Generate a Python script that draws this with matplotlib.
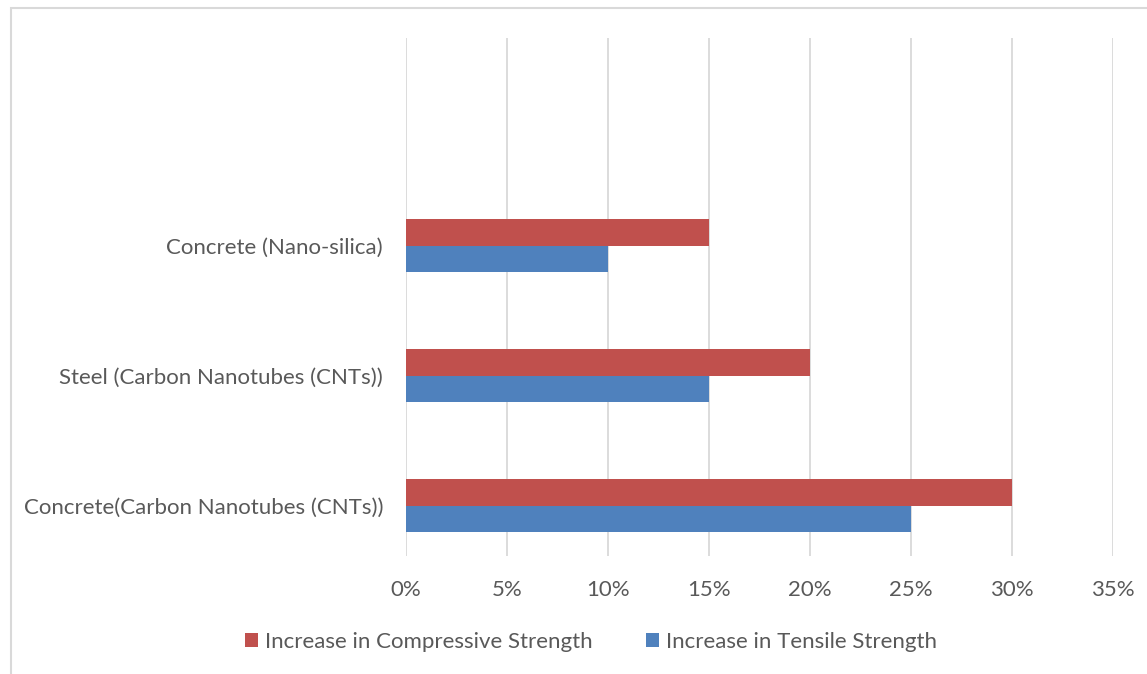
import matplotlib.pyplot as plt
import numpy as np
from matplotlib.patches import Rectangle
from matplotlib.ticker import FuncFormatter

plt.rcParams['font.family'] = ['Lato', 'DejaVu Sans']

# materials listed bottom to top
materials = ['Concrete(Carbon Nanotubes (CNTs))',
             'Steel (Carbon Nanotubes (CNTs))',
             'Concrete (Nano-silica)']
compressive = [30, 20, 15]
tensile = [25, 15, 10]
x_ticks = [0, 5, 10, 15, 20, 25, 30, 35]

red = '#C0504D'
blue = '#4F81BD'
grid_col = '#D9D9D9'
text_col = '#595959'

fig = plt.figure(figsize=(11.47, 6.74), dpi=100)
W, H = 1147, 674

# outer chart frame (runs off the right and bottom edges)
fig.patches.append(Rectangle((11 / W, -0.1), 1.2, 1 - 8 / H + 0.1,
                             transform=fig.transFigure, fill=False,
                             edgecolor=grid_col, linewidth=1.5))

ax = fig.add_axes([406 / W, 1 - 556 / H, (1113 - 406) / W, (556 - 38) / H])

y = np.arange(len(materials))
h = 0.204
ax.barh(y + h / 2, compressive, height=h, color=red,
        label='Increase in Compressive Strength', zorder=3)
ax.barh(y - h / 2, tensile, height=h, color=blue,
        label='Increase in Tensile Strength', zorder=3)

ax.set_xlim(0, 35)
ax.set_ylim(-0.385, 3.6)
ax.set_xticks(x_ticks)
ax.xaxis.set_major_formatter(FuncFormatter(lambda v, p: f'{v:.0f}%'))
ax.set_yticks(y)
ax.set_yticklabels(materials)
ax.grid(axis='x', color=grid_col, linewidth=1.3, zorder=0)
for s in ax.spines.values():
    s.set_visible(False)
ax.tick_params(length=0, labelsize=16, colors=text_col)
ax.tick_params(axis='x', pad=17.5)
ax.tick_params(axis='y', pad=16.5)

fig.legend(loc='center', bbox_to_anchor=(591 / W, 1 - 642 / H), ncol=2,
           frameon=False, fontsize=16, labelcolor=text_col,
           handlelength=0.6, handleheight=0.6, handletextpad=0.3,
           columnspacing=2.4)

fig.savefig('out.png', dpi=100)
